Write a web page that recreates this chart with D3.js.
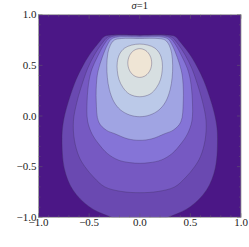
<!DOCTYPE html>
<html lang="en">
<head>
<meta charset="UTF-8">
<title>sigma=1 contour plot</title>
<script src="https://cdn.jsdelivr.net/npm/d3@7"></script>
<style>
  body { margin: 0; background: #fff; }
  svg text { font-family: "Liberation Serif", "DejaVu Serif", serif; fill: #222; }
</style>
</head>
<body>
<div id="chart"></div>
<script>
// contour outlines, right half only (x >= 0), read top centre -> bottom centre
// the plot is symmetric about x = 0 so the left half is the mirror
const contour1 = [[0,0.80],[0.28,0.80],[0.35,0.785],[0.40,0.73],[0.50,0.60],[0.57,0.48],[0.63,0.355],[0.71,0.125],[0.755,-0.06],[0.768,-0.22],[0.745,-0.52],[0.66,-0.73],[0.50,-0.895],[0.33,-0.98],[0.17,-1.03],[0,-1.045]];
const contour2 = [[0,0.795],[0.26,0.795],[0.32,0.775],[0.37,0.72],[0.45,0.60],[0.51,0.48],[0.556,0.355],[0.62,0.14],[0.655,-0.05],[0.645,-0.24],[0.60,-0.40],[0.542,-0.50],[0.45,-0.61],[0.345,-0.70],[0.18,-0.745],[0,-0.757]];
const contour3 = [[0,0.79],[0.24,0.79],[0.30,0.77],[0.35,0.71],[0.42,0.58],[0.47,0.47],[0.50,0.355],[0.52,0.15],[0.515,-0.05],[0.47,-0.18],[0.41,-0.27],[0.32,-0.37],[0.214,-0.434],[0.10,-0.46],[0,-0.467]];
const contour4 = [[0,0.78],[0.22,0.78],[0.28,0.76],[0.32,0.70],[0.37,0.58],[0.41,0.45],[0.425,0.355],[0.43,0.15],[0.405,-0.06],[0.33,-0.14],[0.246,-0.175],[0.12,-0.225],[0,-0.24]];
const contour5 = [[0,0.765],[0.18,0.765],[0.25,0.75],[0.29,0.70],[0.315,0.62],[0.325,0.50],[0.32,0.38],[0.30,0.26],[0.255,0.14],[0.19,0.06],[0.10,0.01],[0,-0.007]];
const contour6 = [[0,0.71],[0.08,0.70],[0.15,0.67],[0.20,0.61],[0.222,0.53],[0.222,0.45],[0.205,0.36],[0.165,0.28],[0.10,0.215],[0,0.19]];
const contour7 = [[0,0.665],[0.059,0.646],[0.102,0.594],[0.118,0.523],[0.102,0.452],[0.059,0.400],[0,0.381]];

const contours = [contour1, contour2, contour3, contour4, contour5, contour6, contour7];
const bandColors = ["#4b1786", "#6a49b1", "#7659c2", "#8574d7", "#a0a4e3", "#bbc9e8", "#d7dfe1", "#efe5d5"];

const xTicks = [-1.0, -0.5, 0.0, 0.5, 1.0];
const yTicks = [-1.0, -0.5, 0.0, 0.5, 1.0];
const minorTicks = d3.range(-10, 11).map(d => d / 10);
const titleText = "=1";

const W = 249, H = 247;
const mLeft = 38.5, mRight = 241, mTop = 14.7, mBottom = 217.3;

const svg = d3.select("#chart").append("svg")
  .attr("width", W)
  .attr("height", H);

const x = d3.scaleLinear().domain([-1, 1]).range([mLeft, mRight]);
const y = d3.scaleLinear().domain([-1, 1]).range([mBottom, mTop]);

svg.append("defs").append("clipPath")
  .attr("id", "plotClip")
  .append("rect")
  .attr("x", mLeft).attr("y", mTop)
  .attr("width", mRight - mLeft).attr("height", mBottom - mTop);

const plot = svg.append("g").attr("clip-path", "url(#plotClip)");

// background band (lowest level)
plot.append("rect")
  .attr("x", mLeft).attr("y", mTop)
  .attr("width", mRight - mLeft).attr("height", mBottom - mTop)
  .attr("fill", bandColors[0]);

// mirror a right-half outline into a closed loop
function closeOutline(half) {
  const mirrored = half.slice(1, -1).reverse().map(p => [-p[0], p[1]]);
  return half.concat(mirrored);
}

const line = d3.line()
  .x(d => x(d[0]))
  .y(d => y(d[1]))
  .curve(d3.curveCatmullRomClosed.alpha(0.5));

plot.selectAll("path.band")
  .data(contours)
  .join("path")
  .attr("class", "band")
  .attr("d", d => line(closeOutline(d)))
  .attr("fill", (d, i) => bandColors[i + 1])
  .attr("stroke", "#3a2a5a")
  .attr("stroke-opacity", 0.55)
  .attr("stroke-width", 0.6);

// frame
svg.append("rect")
  .attr("x", mLeft).attr("y", mTop)
  .attr("width", mRight - mLeft).attr("height", mBottom - mTop)
  .attr("fill", "none")
  .attr("stroke", "#999")
  .attr("stroke-width", 0.8);

// ticks, drawn inward like a Mathematica frame
const tickG = svg.append("g").attr("stroke", "#666").attr("stroke-width", 0.5);
minorTicks.forEach(v => {
  const major = Math.abs(v * 2 - Math.round(v * 2)) < 1e-9;
  const len = major ? 4 : 2;
  tickG.append("line").attr("x1", x(v)).attr("x2", x(v)).attr("y1", mBottom).attr("y2", mBottom - len);
  tickG.append("line").attr("x1", x(v)).attr("x2", x(v)).attr("y1", mTop).attr("y2", mTop + len);
  tickG.append("line").attr("x1", mLeft).attr("x2", mLeft + len).attr("y1", y(v)).attr("y2", y(v));
  tickG.append("line").attr("x1", mRight).attr("x2", mRight - len).attr("y1", y(v)).attr("y2", y(v));
});

const fmt = d => (d < 0 ? "\u2212" : "") + Math.abs(d).toFixed(1);

svg.append("g").selectAll("text")
  .data(xTicks)
  .join("text")
  .attr("x", d => x(d))
  .attr("y", mBottom + 8.5)
  .attr("text-anchor", "middle")
  .attr("font-size", "11px")
  .text(fmt);

svg.append("g").selectAll("text")
  .data(yTicks)
  .join("text")
  .attr("x", mLeft - 2)
  .attr("y", d => y(d) + 3.7)
  .attr("text-anchor", "end")
  .attr("font-size", "11px")
  .text(fmt);

const title = svg.append("text")
  .attr("x", (mLeft + mRight) / 2)
  .attr("y", 9)
  .attr("text-anchor", "middle")
  .attr("font-size", "10.5px");
title.append("tspan").attr("font-style", "italic").text("\u03c3");
title.append("tspan").text(titleText);
</script>
</body>
</html>
